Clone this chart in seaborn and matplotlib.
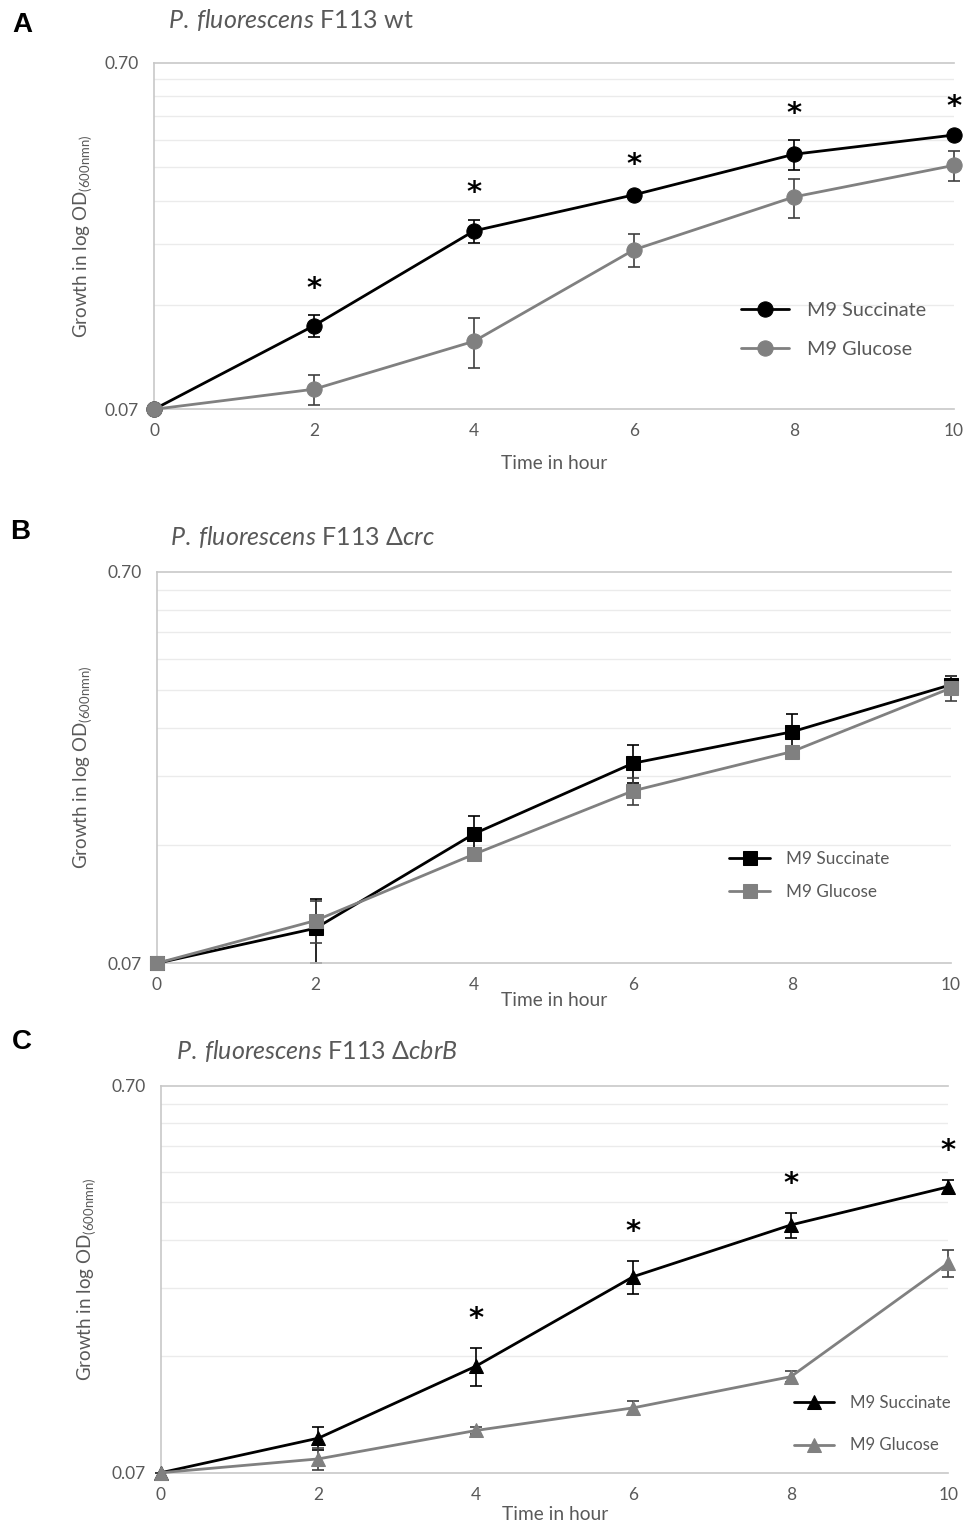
import matplotlib
matplotlib.use('Agg')
import matplotlib.pyplot as plt
import seaborn as sns
from matplotlib.ticker import FixedLocator, NullFormatter

# Zeitpunkte (Stunden)
hours = [0, 2, 4, 6, 8, 10]

# A: wt
wt_succ = [0.070, 0.122, 0.229, 0.291, 0.381, 0.433]
wt_succ_sd = [0.0, 0.009, 0.018, 0.006, 0.038, 0.004]
wt_gluc = [0.070, 0.080, 0.110, 0.202, 0.287, 0.354]
wt_gluc_sd = [0.0, 0.008, 0.018, 0.022, 0.037, 0.035]
wt_sig = [2, 4, 6, 8, 10]

# B: delta crc
crc_succ = [0.070, 0.086, 0.150, 0.227, 0.273, 0.360]
crc_succ_sd = [0.0, 0.016, 0.016, 0.025, 0.030, 0.020]
crc_gluc = [0.070, 0.090, 0.133, 0.193, 0.243, 0.353]
crc_gluc_sd = [0.0, 0.011, 0.005, 0.015, 0.005, 0.025]
crc_sig = []

# C: delta cbrB
cbrb_succ = [0.070, 0.086, 0.132, 0.225, 0.306, 0.384]
cbrb_succ_sd = [0.0, 0.006, 0.015, 0.022, 0.022, 0.015]
cbrb_gluc = [0.070, 0.076, 0.090, 0.103, 0.124, 0.244]
cbrb_gluc_sd = [0.0, 0.005, 0.002, 0.004, 0.004, 0.020]
cbrb_sig = [4, 6, 8, 10]

y_ticks = [0.07, 0.70]
y_ticklabels = ['0.07', '0.70']
minor_grid = [0.14, 0.21, 0.28, 0.35, 0.42, 0.49, 0.56, 0.63]

sns.set_style('white')
plt.rcParams['font.family'] = ['Lato', 'DejaVu Sans']
plt.rcParams['mathtext.fontset'] = 'custom'
plt.rcParams['mathtext.rm'] = 'Lato'
plt.rcParams['mathtext.it'] = 'Lato:italic'

TEXT = '#595959'
GRAY = '#808080'
W, H = 967, 1526


def px_rect(x0, x1, ytop, ybot):
    return [x0 / W, 1 - ybot / H, (x1 - x0) / W, (ybot - ytop) / H]


def draw_panel(ax, succ, succ_sd, gluc, gluc_sd, sig, marker, ms, star_off):
    ax.set_yscale('log')
    series = [(succ, succ_sd, 'black', 'black', 'M9 Succinate'),
              (gluc, gluc_sd, GRAY, '#404040', 'M9 Glucose')]
    for vals, sd, col, ecol, lab in series:
        ax.errorbar(hours, vals, yerr=sd, fmt='none', ecolor=ecol, elinewidth=1.2,
                    capsize=4, capthick=1.2, zorder=2, clip_on=False)
        sns.lineplot(x=hours, y=vals, ax=ax, color=col, marker=marker, markersize=ms,
                     markeredgecolor=col, linewidth=2, label=lab, zorder=3, clip_on=False)
    # Signifikanz-Sternchen ueber dem oberen Fehlerbalken
    for t in sig:
        i = hours.index(t)
        ax.annotate('*', (t, succ[i] + succ_sd[i]), xytext=(0, star_off), textcoords='offset points',
                    ha='center', va='center', fontsize=21, fontweight='bold', color='black',
                    family='DejaVu Sans')

    ax.set_xlim(0, 10)
    ax.set_ylim(0.07, 0.70)
    ax.yaxis.set_major_locator(FixedLocator(y_ticks))
    ax.set_yticklabels(y_ticklabels)
    ax.yaxis.set_minor_locator(FixedLocator(minor_grid))
    ax.yaxis.set_minor_formatter(NullFormatter())
    ax.set_xticks(hours)
    ax.grid(which='minor', axis='y', color='#ebebeb', lw=1)
    ax.tick_params(which='both', length=0, colors=TEXT, labelsize=12.5)
    ax.tick_params(axis='x', pad=10)
    ax.tick_params(axis='y', pad=11)
    for s in ['top', 'bottom', 'left']:
        ax.spines[s].set_color('#c8c8c8')
        ax.spines[s].set_linewidth(1.2)
    ax.spines['right'].set_visible(False)
    ax.set_ylabel('Growth in log OD$_{\\mathregular{(600nmn)}}$', fontsize=13.5, color=TEXT)
    ax.yaxis.label.set_va('center')
    ax.set_xlabel('Time in hour', fontsize=13.8, color=TEXT)
    ax.xaxis.label.set_va('center')


fig = plt.figure(figsize=(W / 100, H / 100), dpi=100)

panels = [
    ('A', r'$\mathit{P.\:fluorescens}$ F113 wt', (168, 20), (22, 25),
     px_rect(154, 954, 62.7, 409.3), wt_succ, wt_succ_sd, wt_gluc, wt_gluc_sd, wt_sig, 'o', 11, 19,
     (0.712, 0.228), 14.3, 1.1, -0.155, -0.089),
    ('B', r'$\mathit{P.\:fluorescens}$ F113 Δ$\mathit{crc}$', (170, 537), (20, 532),
     px_rect(156.7, 950.7, 571.7, 963.3), crc_succ, crc_succ_sd, crc_gluc, crc_gluc_sd, crc_sig, 's', 10, 19,
     (0.702, 0.224), 12.3, 0.95, -0.096, -0.093),
    ('C', r'$\mathit{P.\:fluorescens}$ F113 Δ$\mathit{cbrB}$', (176, 1051), (22, 1042),
     px_rect(161, 948.3, 1086, 1472.7), cbrb_succ, cbrb_succ_sd, cbrb_gluc, cbrb_gluc_sd, cbrb_sig, '^', 10, 21,
     (0.785, 0.126), 12.1, 1.6, -0.109, -0.095),
]

for (letter, title, tpos, lpos, rect, s, ssd, g, gsd, sig, mk, ms, star_off,
     leg_anchor, leg_fs, leg_sp, xlab_y, ylab_x) in panels:
    ax = fig.add_axes(rect)
    draw_panel(ax, s, ssd, g, gsd, sig, mk, ms, star_off)
    ax.xaxis.set_label_coords(0.5, xlab_y)
    ax.yaxis.set_label_coords(ylab_x, 0.5)
    ax.legend(loc='center left', bbox_to_anchor=leg_anchor, frameon=False, fontsize=leg_fs,
              handlelength=2.4, handletextpad=0.9, labelspacing=leg_sp, labelcolor=TEXT)
    fig.text(tpos[0] / W, 1 - tpos[1] / H, title, ha='left', va='center', fontsize=18, color=TEXT)
    fig.text(lpos[0] / W, 1 - lpos[1] / H, letter, ha='center', va='center', fontsize=20,
             fontweight='bold', family='Liberation Sans', color='black')

fig.savefig('out.png', dpi=100)
